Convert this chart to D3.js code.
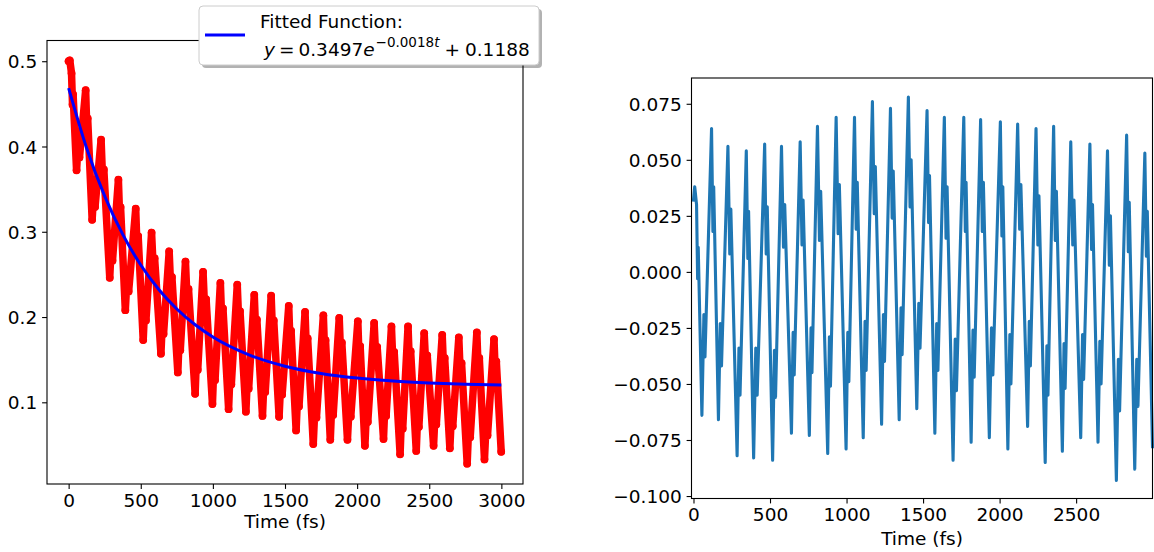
<!DOCTYPE html>
<html>
<head>
<meta charset="utf-8">
<script src="https://cdn.jsdelivr.net/npm/d3@7"></script>
<style>
  html, body { margin: 0; padding: 0; background: #fff; }
  svg { display: block; }
  text { font-family: "DejaVu Sans", sans-serif; }
</style>
</head>
<body>
<svg id="chart" width="1154" height="552"></svg>
<script>
// ---------------- data ----------------
// Sample times (fs): turning points and side-spikes of the oscillating signal
const timeT = [0,8,20, 27,31,55, 68,75,118, 127,132,163, 175,183,225, 237,244,285, 297,304,345, 355,360,393, 407,416,465, 475,482,517, 529,536,575, 588,596,640, 651,658,697, 709,716,757, 768,774,810, 823,831,877, 888,895,932, 945,953,997, 1008,1015,1052, 1063,1070,1109, 1121,1128,1169, 1181,1188,1229, 1241,1248,1287, 1298,1305,1344, 1356,1363,1404, 1415,1422,1459, 1472,1480,1526, 1536,1542,1577, 1589,1597,1639, 1650,1657,1696, 1710,1718,1766, 1776,1781,1814, 1826,1834,1876, 1887,1894,1933, 1947,1956,2005, 2015,2021,2054, 2067,2074,2118, 2131,2139,2183, 2194,2201,2238, 2250,2257,2298, 2309,2316,2353, 2364,2371,2410, 2421,2428,2465, 2478,2486,2530, 2542,2549,2590, 2601,2607,2643, 2655,2663,2705, 2717,2724,2763, 2776,2784,2830, 2841,2847,2883, 2896,2904,2949, 2959,2965,2999];

// Left panel: population values at those times
const leftV = [0.500,0.501,0.486, 0.449,0.461,0.372, 0.410,0.387,0.466, 0.415,0.433,0.314, 0.351,0.329,0.408, 0.355,0.373,0.246, 0.290,0.266,0.361, 0.310,0.329,0.208, 0.253,0.230,0.327, 0.276,0.295,0.173, 0.219,0.196,0.299, 0.251,0.269,0.157, 0.200,0.180,0.277, 0.229,0.247,0.135, 0.182,0.161,0.265, 0.212,0.233,0.110, 0.161,0.138,0.253, 0.200,0.221,0.098, 0.149,0.126,0.240, 0.189,0.210,0.092, 0.143,0.121,0.238, 0.187,0.207,0.089, 0.137,0.116,0.226, 0.177,0.197,0.084, 0.133,0.112,0.225, 0.175,0.196,0.083, 0.130,0.109,0.213, 0.163,0.184,0.067, 0.116,0.095,0.206, 0.152,0.175,0.051, 0.105,0.082,0.202, 0.151,0.173,0.056, 0.106,0.085,0.199, 0.149,0.170,0.056, 0.104,0.083,0.195, 0.144,0.166,0.049, 0.099,0.077,0.193, 0.145,0.165,0.057, 0.104,0.084,0.189, 0.137,0.159,0.039, 0.091,0.069,0.189, 0.138,0.160,0.043, 0.091,0.071,0.181, 0.135,0.155,0.049, 0.094,0.074,0.179, 0.132,0.152,0.046, 0.091,0.072,0.176, 0.124,0.146,0.028, 0.082,0.059,0.182, 0.130,0.152,0.033, 0.082,0.061,0.174, 0.128,0.148,0.042];

// Right panel: residual values at those times
const resV = [0.032,0.038,0.030, -0.003,0.011,-0.064, -0.019,-0.038,0.064, 0.018,0.038,-0.066, -0.023,-0.042,0.056, 0.008,0.028,-0.082, -0.034,-0.055,0.054, 0.006,0.027,-0.083, -0.034,-0.055,0.057, 0.008,0.029,-0.084, -0.035,-0.056,0.056, 0.011,0.030,-0.072, -0.027,-0.046,0.058, 0.012,0.032,-0.073, -0.025,-0.045,0.065, 0.014,0.036,-0.081, -0.029,-0.051,0.069, 0.017,0.039,-0.079, -0.027,-0.049,0.069, 0.019,0.040,-0.074, -0.022,-0.044,0.076, 0.026,0.047,-0.068, -0.019,-0.040,0.073, 0.024,0.045,-0.066, -0.016,-0.037,0.078, 0.029,0.050,-0.061, -0.014,-0.034,0.072, 0.022,0.043,-0.072, -0.023,-0.044,0.069, 0.015,0.038,-0.084, -0.030,-0.053,0.069, 0.018,0.040,-0.076, -0.026,-0.047,0.068, 0.018,0.040,-0.074, -0.025,-0.046,0.067, 0.016,0.038,-0.079, -0.028,-0.050,0.066, 0.019,0.039,-0.069, -0.022,-0.042,0.064, 0.012,0.034,-0.085, -0.033,-0.055,0.065, 0.014,0.036,-0.080, -0.032,-0.052,0.058, 0.012,0.032,-0.074, -0.028,-0.048,0.057, 0.010,0.030,-0.076, -0.031,-0.050,0.054, 0.003,0.025,-0.093, -0.039,-0.062,0.061, 0.009,0.031,-0.088, -0.039,-0.060,0.053, 0.007,0.027,-0.078];

// Fitted exponential curve, sampled values
const fitT = [0,125,250,375,500,625,750,875,1000,1250,1500,1750,2000,2250,2500,2750,3000];
const fitV = [0.4685,0.3980,0.3418,0.2969,0.2610,0.2323,0.2094,0.1912,0.1766,0.1557,0.1423,0.1338,0.1284,0.1249,0.1227,0.1213,0.1204];

// Tick values
const leftXTicks = [0,500,1000,1500,2000,2500,3000];
const leftYTicks = [0.1,0.2,0.3,0.4,0.5];
const rightXTicks = [0,500,1000,1500,2000,2500];
const rightYTicks = [-0.100,-0.075,-0.050,-0.025,0.000,0.025,0.050,0.075];

const xLabel = "Time (fs)";
const legendTitle = "Fitted Function:";

// ---------------- drawing ----------------
const svg = d3.select("#chart");
svg.append("rect").attr("width",1154).attr("height",552).attr("fill","#fff");

const FS = 18.5;

// Left panel geometry
const L = {x0:47, x1:523, y0:40.5, y1:484};
const xL = d3.scaleLinear().domain([-150,3150]).range([L.x0,L.x1]);
const yL = d3.scaleLinear().domain([0.0042,0.5243]).range([L.y1,L.y0]);

// Right panel geometry
const R = {x0:691.5, x1:1152.5, y0:78, y1:498.5};
const xR = d3.scaleLinear().domain([-13,2999]).range([R.x0,R.x1]);
const yR = d3.scaleLinear().domain([-0.1011,0.0865]).range([R.y1,R.y0]);

function styleAxis(g){
  g.select(".domain").remove();
  g.selectAll(".tick line").attr("stroke","#000").attr("stroke-width",1.1);
  g.selectAll(".tick text").attr("fill","#000").style("font-size",FS+"px")
    .style("font-family","'DejaVu Sans', sans-serif");
}

// ---- left panel ----
const gL = svg.append("g");
const leftPts = d3.zip(timeT,leftV);
gL.append("path")
  .attr("d", d3.line().x(d=>xL(d[0])).y(d=>yL(d[1]))(leftPts))
  .attr("fill","none").attr("stroke","#ff0000").attr("stroke-width",7.5)
  .attr("stroke-linejoin","round").attr("stroke-linecap","round");
gL.selectAll("circle.pt").data(leftPts).join("circle")
  .attr("class","pt").attr("cx",d=>xL(d[0])).attr("cy",d=>yL(d[1]))
  .attr("r",3.9).attr("fill","#ff0000");

gL.append("path")
  .attr("d", d3.line().curve(d3.curveMonotoneX).x(d=>xL(d[0])).y(d=>yL(d[1]))(d3.zip(fitT,fitV)))
  .attr("fill","none").attr("stroke","#0000ff").attr("stroke-width",3);

gL.append("g").attr("transform",`translate(0,${L.y1})`)
  .call(d3.axisBottom(xL).tickValues(leftXTicks).tickFormat(d3.format("d")).tickSize(4.9).tickPadding(4.9))
  .call(styleAxis);
gL.append("g").attr("transform",`translate(${L.x0},0)`)
  .call(d3.axisLeft(yL).tickValues(leftYTicks).tickFormat(d3.format(".1f")).tickSize(4.9).tickPadding(4.9))
  .call(styleAxis)
  .selectAll(".tick text").attr("dy","0.36em");

gL.append("rect").attr("x",L.x0).attr("y",L.y0).attr("width",L.x1-L.x0).attr("height",L.y1-L.y0)
  .attr("fill","none").attr("stroke","#000").attr("stroke-width",1.1);

gL.append("text").attr("x",(L.x0+L.x1)/2).attr("y",527.5).attr("text-anchor","middle")
  .style("font-size",FS+"px").text(xLabel);

// ---- right panel ----
const gR = svg.append("g");
gR.append("path")
  .attr("d", d3.line().x(d=>xR(d[0])).y(d=>yR(d[1]))(d3.zip(timeT,resV)))
  .attr("fill","none").attr("stroke","#1f77b4").attr("stroke-width",3.1)
  .attr("stroke-linejoin","round").attr("stroke-linecap","square");

gR.append("g").attr("transform",`translate(0,${R.y1})`)
  .call(d3.axisBottom(xR).tickValues(rightXTicks).tickFormat(d3.format("d")).tickSize(4.9).tickPadding(4.9))
  .call(styleAxis);
gR.append("g").attr("transform",`translate(${R.x0},0)`)
  .call(d3.axisLeft(yR).tickValues(rightYTicks).tickFormat(d3.format(".3f")).tickSize(4.9).tickPadding(4.9))
  .call(styleAxis)
  .selectAll(".tick text").attr("dy","0.36em");

gR.append("rect").attr("x",R.x0).attr("y",R.y0).attr("width",R.x1-R.x0).attr("height",R.y1-R.y0)
  .attr("fill","none").attr("stroke","#000").attr("stroke-width",1.1);

gR.append("text").attr("x",(R.x0+R.x1)/2).attr("y",544.5).attr("text-anchor","middle")
  .style("font-size",FS+"px").text(xLabel);

// ---- legend ----
const lg = svg.append("g");
const LB = {x:199, y:6, w:340, h:59};
lg.append("rect").attr("x",LB.x+3).attr("y",LB.y+3).attr("width",LB.w).attr("height",LB.h)
  .attr("rx",4).attr("fill","#000").attr("opacity",0.3);
lg.append("rect").attr("x",LB.x).attr("y",LB.y).attr("width",LB.w).attr("height",LB.h)
  .attr("rx",4).attr("fill","#fff").attr("stroke","#cccccc").attr("stroke-width",1);
lg.append("line").attr("x1",205).attr("x2",245).attr("y1",35).attr("y2",35)
  .attr("stroke","#0000ff").attr("stroke-width",3);
lg.append("text").attr("x",260).attr("y",27.5).style("font-size",FS+"px").text(legendTitle);

const eq = lg.append("text").attr("x",264).attr("y",55.5).style("font-size",FS+"px");
eq.append("tspan").style("font-style","italic").text("y");
eq.append("tspan").attr("dx",4).text("=");
eq.append("tspan").attr("dx",4).text("0.3497");
eq.append("tspan").style("font-style","italic").text("e");
eq.append("tspan").attr("dy",-9).attr("dx",1).style("font-size","13.5px").text("\u22120.0018");
eq.append("tspan").style("font-size","13.5px").style("font-style","italic").text("t");
eq.append("tspan").attr("dy",9).attr("dx",5).text("+");
eq.append("tspan").attr("dx",5).text("0.1188");
</script>
</body>
</html>
